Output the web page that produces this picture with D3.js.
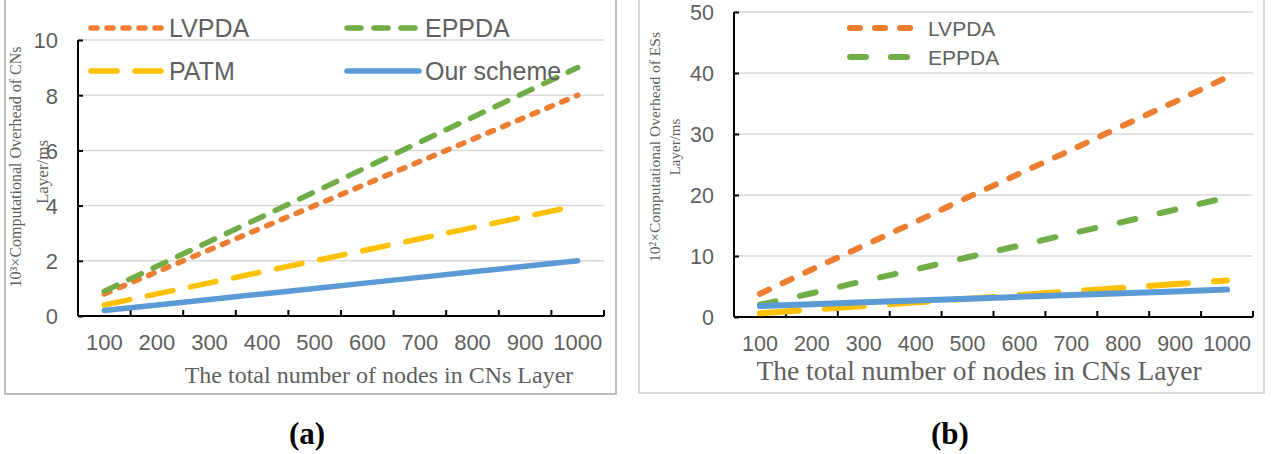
<!DOCTYPE html>
<html>
<head>
<meta charset="utf-8">
<script src="https://cdn.jsdelivr.net/npm/d3@7"></script>
<style>
html,body{margin:0;padding:0;background:#fff;}
svg{display:block;}
</style>
</head>
<body>
<svg id="chart" width="1271" height="454"></svg>
<script>
// ---------- data ----------
const categories = ["100","200","300","400","500","600","700","800","900","1000"];

// chart (a): 10^3 x computational overhead of CNs layer (ms)
const aLVPDA  = [0.8, 1.6, 2.4, 3.2, 4.0, 4.8, 5.6, 6.4, 7.2, 8.0];
const aEPPDA  = [0.9, 1.8, 2.7, 3.6, 4.5, 5.4, 6.3, 7.2, 8.1, 9.0];
const aPATM   = [0.4, 0.8, 1.2, 1.6, 2.0, 2.4, 2.8, 3.2, 3.6, 4.0];
const aOurs   = [0.2, 0.4, 0.6, 0.8, 1.0, 1.2, 1.4, 1.6, 1.8, 2.0];
const aYTicks = [0, 2, 4, 6, 8, 10];

// chart (b): 10^2 x computational overhead of ESs layer (ms)
const bLVPDA  = [3.8, 7.8, 11.7, 15.6, 19.6, 23.5, 27.4, 31.4, 35.3, 39.3];
const bEPPDA  = [2.0, 3.9, 5.9, 7.8, 9.8, 11.7, 13.7, 15.6, 17.6, 19.6];
const bPATM   = [0.6, 1.2, 1.8, 2.4, 3.0, 3.6, 4.2, 4.8, 5.4, 6.0];
const bOurs   = [1.8, 2.1, 2.4, 2.7, 3.0, 3.3, 3.6, 3.9, 4.2, 4.5];
const bYTicks = [0, 10, 20, 30, 40, 50];

const seriesNames = ["LVPDA", "EPPDA", "PATM", "Our scheme"];
const xTitle = "The total number of nodes in CNs Layer";

// ---------- styling ----------
const COLORS = {"LVPDA":"#ED7D31","EPPDA":"#70AD47","PATM":"#FFC000","Our scheme":"#5B9BD5"};
const SANS = "'Liberation Sans', Arial, sans-serif";
const SERIF = "'Liberation Serif', 'Times New Roman', serif";
const TXT = "#5f5f5f";

const svg = d3.select("#chart");

function drawChart(cfg) {
  const g = svg.append("g");
  // frame
  g.append("rect")
    .attr("x", cfg.frame[0]).attr("y", cfg.frame[1])
    .attr("width", cfg.frame[2]).attr("height", cfg.frame[3])
    .attr("fill", "none").attr("stroke", cfg.frameColor).attr("stroke-width", cfg.frameWidth);

  const x = d3.scaleBand().domain(categories).range([cfg.left, cfg.right]).padding(0);
  const y = d3.scaleLinear().domain(cfg.yDomain).range([cfg.bottom, cfg.top]);

  // gridlines
  g.append("g").selectAll("line").data(cfg.yTicks.filter(d => d !== 0)).join("line")
    .attr("x1", cfg.left).attr("x2", cfg.right)
    .attr("y1", d => y(d)).attr("y2", d => y(d))
    .attr("stroke", "#d9d9d9").attr("stroke-width", 1.5);

  // y axis
  const yAxis = d3.axisLeft(y).tickValues(cfg.yTicks).tickSize(-5).tickPadding(20).tickFormat(d3.format("d"));
  const ya = g.append("g").attr("transform", `translate(${cfg.left},0)`).call(yAxis);
  ya.select(".domain").attr("stroke", "#000").attr("stroke-width", 2)
    .attr("d", `M0,${cfg.bottom}V${cfg.top}`);
  ya.selectAll(".tick line").attr("stroke", "#000").attr("stroke-width", 2);
  ya.selectAll(".tick text").attr("fill", TXT).attr("font-family", SANS)
    .attr("font-size", cfg.tickFont).attr("dy", "0.36em");

  // x axis
  const xAxis = d3.axisBottom(x).tickSize(0).tickPadding(0);
  const xa = g.append("g").attr("transform", `translate(0,${cfg.bottom})`).call(xAxis);
  xa.select(".domain").attr("stroke", "#000").attr("stroke-width", 2)
    .attr("d", `M${cfg.left},0H${cfg.right}`);
  xa.selectAll(".tick line").remove();
  xa.selectAll(".tick text").attr("fill", TXT).attr("font-family", SANS)
    .attr("font-size", cfg.tickFont).attr("y", cfg.xLabelDy).attr("dy", "0.36em");
  // category boundary ticks (pointing up)
  const bounds = categories.map(c => x(c)).concat([cfg.right]);
  g.append("g").selectAll("line").data(bounds).join("line")
    .attr("x1", d => d).attr("x2", d => d)
    .attr("y1", cfg.bottom).attr("y2", cfg.bottom - 6)
    .attr("stroke", "#000").attr("stroke-width", 2);

  // lines
  const line = d3.line().x((d, i) => x(categories[i]) + x.bandwidth() / 2).y(d => y(d));
  cfg.series.forEach(s => {
    g.append("path").datum(s.values)
      .attr("d", line)
      .attr("fill", "none")
      .attr("stroke", COLORS[s.name])
      .attr("stroke-width", cfg.lineWidth)
      .attr("stroke-linecap", "round")
      .attr("stroke-linejoin", "round")
      .attr("stroke-dasharray", s.dash || null);
  });

  // legend
  cfg.legend.forEach(l => {
    const s = cfg.series.find(d => d.name === l.name);
    g.append("line")
      .attr("x1", l.x).attr("x2", l.x + cfg.legendLen)
      .attr("y1", l.y).attr("y2", l.y)
      .attr("stroke", COLORS[l.name]).attr("stroke-width", cfg.lineWidth)
      .attr("stroke-linecap", "round")
      .attr("stroke-dasharray", s.dash || null);
    g.append("text")
      .attr("x", l.x + cfg.legendLen + cfg.legendGap).attr("y", l.y)
      .attr("dy", "0.36em")
      .attr("fill", TXT).attr("font-family", SANS).attr("font-size", cfg.legendFont)
      .text(l.name);
  });

  // x title
  g.append("text")
    .attr("x", cfg.xTitle.x).attr("y", cfg.xTitle.y)
    .attr("text-anchor", "middle")
    .attr("fill", TXT).attr("font-family", SERIF).attr("font-size", cfg.xTitle.size)
    .text(xTitle);

  // y titles
  cfg.yTitle.forEach(t => {
    g.append("text")
      .attr("transform", `translate(${t.x},${t.y}) rotate(-90)`)
      .attr("text-anchor", "middle").attr("dy", "0.35em")
      .attr("fill", TXT).attr("font-family", SERIF).attr("font-size", t.size)
      .text(t.text);
  });

  // caption
  g.append("text")
    .attr("x", cfg.caption.x).attr("y", cfg.caption.y)
    .attr("text-anchor", "middle")
    .attr("fill", "#000").attr("font-family", SERIF).attr("font-weight", "bold")
    .attr("font-size", 31)
    .text(cfg.caption.text);
}

drawChart({
  frame: [5, -5, 611, 399], frameColor: "#a6a6a6", frameWidth: 1.5,
  left: 78, right: 604, top: 40, bottom: 316,
  yDomain: [0, 10], yTicks: aYTicks, tickFont: 22, xLabelDy: 26,
  lineWidth: 5.5,
  series: [
    {name: "LVPDA", values: aLVPDA, dash: "6 10"},
    {name: "EPPDA", values: aEPPDA, dash: "14 13"},
    {name: "PATM", values: aPATM, dash: "26 18"},
    {name: "Our scheme", values: aOurs, dash: null}
  ],
  legend: [
    {name: "LVPDA", x: 91, y: 28},
    {name: "EPPDA", x: 347, y: 28},
    {name: "PATM", x: 91, y: 71},
    {name: "Our scheme", x: 347, y: 71}
  ],
  legendLen: 72, legendGap: 6, legendFont: 25,
  xTitle: {x: 379, y: 383, size: 24},
  yTitle: [
    {text: "10³×Computational Overhead of CNs", x: 15, y: 167, size: 16},
    {text: "Layer/ms", x: 42, y: 172, size: 17}
  ],
  caption: {text: "(a)", x: 307, y: 444}
});

drawChart({
  frame: [639, -5, 625, 398], frameColor: "#d9d9d9", frameWidth: 2,
  left: 734, right: 1253, top: 12, bottom: 317,
  yDomain: [0, 50], yTicks: bYTicks, tickFont: 21.5, xLabelDy: 26,
  lineWidth: 6,
  series: [
    {name: "LVPDA", values: bLVPDA, dash: "10 15"},
    {name: "EPPDA", values: bEPPDA, dash: "16 25"},
    {name: "PATM", values: bPATM, dash: "39 26"},
    {name: "Our scheme", values: bOurs, dash: null}
  ],
  legend: [
    {name: "LVPDA", x: 850, y: 28},
    {name: "EPPDA", x: 850, y: 57}
  ],
  legendLen: 66, legendGap: 12, legendFont: 21,
  xTitle: {x: 979, y: 380, size: 27.5},
  yTitle: [
    {text: "10²×Computational Overhead of ESs", x: 655, y: 147, size: 15.5},
    {text: "Layer/ms", x: 675, y: 147, size: 15}
  ],
  caption: {text: "(b)", x: 950, y: 444}
});
</script>
</body>
</html>
